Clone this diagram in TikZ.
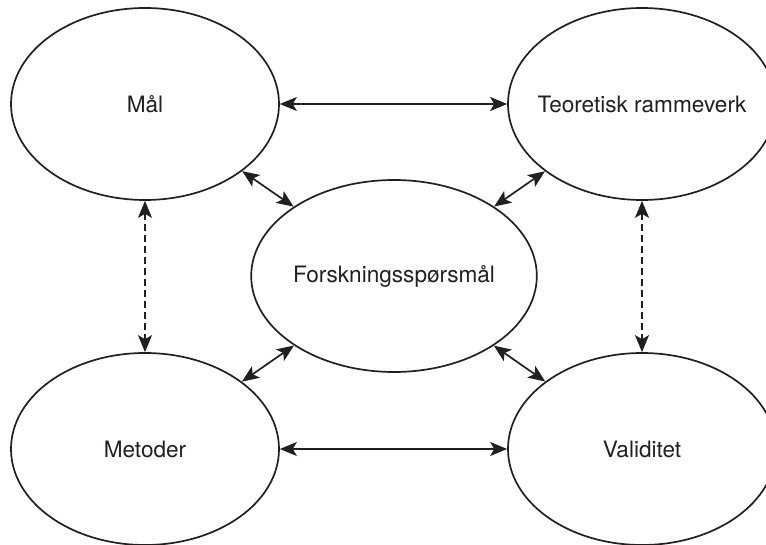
\documentclass[tikz,border=0pt]{standalone}
\usepackage{fontspec}
\setmainfont{TeX Gyre Heros}
\usepackage{tikz}
\usetikzlibrary{arrows.meta,shapes.geometric}

\definecolor{strek}{RGB}{35,31,32}
\tikzset{
	boble/.style={shape=ellipse,draw=strek,line width=1.7pt,minimum width=268pt,minimum height=192pt,inner sep=0pt,text=strek,font=\fontsize{22.6}{27}\selectfont},
	pil/.style={draw=strek,line width=1.7pt,{Stealth[length=17pt,width=14pt,inset=4pt]}-{Stealth[length=17pt,width=14pt,inset=4pt]}},
	stiplet/.style={pil,dash pattern=on 7pt off 4pt}
}

\begin{document}
\begin{tikzpicture}[x=1pt,y=-1pt]
	\useasboundingbox (0,0) rectangle (766,545);
	\path (145,104) node (mal) [boble] {Mål}
		  (642,104) node (teori) [boble,inner xsep=-12pt] {Teoretisk rammeverk}
		  (394,276) node (fors) [boble] {Forskningsspørsmål}
		  (145,449) node (metode) [boble] {Metoder}
		  (642,449) node (valid) [boble] {Validitet};
	\draw[pil] (mal) -- (teori);
	\draw[pil] (metode) -- (valid);
	\draw[stiplet] (mal) -- (metode);
	\draw[stiplet] (teori) -- (valid);
	\draw[pil] (mal) -- (fors);
	\draw[pil] (teori) -- (fors);
	\draw[pil] (metode) -- (fors);
	\draw[pil] (valid) -- (fors);
\end{tikzpicture}
\end{document}
